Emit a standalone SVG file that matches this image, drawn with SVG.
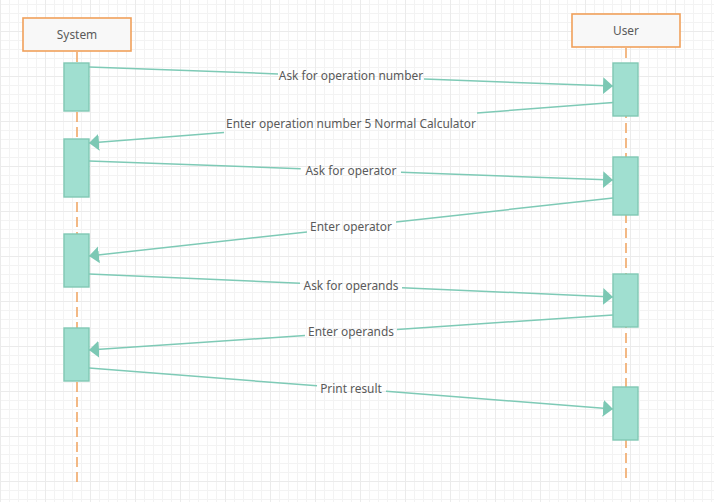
<svg xmlns="http://www.w3.org/2000/svg" width="714" height="502" viewBox="0 0 714 502">
<defs>
<pattern id="gmin" width="9" height="9" patternUnits="userSpaceOnUse" x="0" y="4">
<path d="M0.5,0 V9 M0,0.5 H9" fill="none" stroke="#f3f3f3" stroke-width="1"/>
</pattern>
<pattern id="gmaj" width="45" height="45" patternUnits="userSpaceOnUse" x="0" y="31">
<path d="M0.5,0 V45 M0,0.5 H45" fill="none" stroke="#ebebeb" stroke-width="1"/>
</pattern>
<marker id="arr" markerUnits="userSpaceOnUse" markerWidth="11" markerHeight="18" refX="10" refY="8.5" orient="auto" viewBox="0 0 11 18">
<path d="M0,0 L10,8.5 L0,17 z" fill="#7cc8b4"/>
</marker>
<style>
.actor rect{fill:#f8f8f8;stroke:#f0a05a;stroke-width:1.6}
.life{stroke:#f0a868;stroke-width:1.6;stroke-dasharray:10 5;fill:none}
.act{fill:#a0dfd0;stroke:#80c8b4;stroke-width:1.4}
text{font-family:"Noto Sans","Liberation Sans",Arial,sans-serif;font-size:11.9px;fill:#5a5a5a;text-anchor:middle}
.msg{stroke:#7ecab6;stroke-width:1.5;fill:none}
</style>
</defs>
<rect width="714" height="502" fill="#ffffff"/>
<rect width="714" height="502" fill="url(#gmin)"/>
<rect width="714" height="502" fill="url(#gmaj)"/>

<g id="lifelines">
<line class="life" x1="77" y1="52" x2="77" y2="487"/>
<line class="life" x1="626" y1="48" x2="626" y2="483"/>
</g>

<g id="system">
<g class="actor"><rect x="23" y="18" width="108" height="33"/></g>
<text x="77" y="39">System</text>
</g>
<g id="user">
<g class="actor"><rect x="572" y="14" width="108" height="33"/></g>
<text x="626" y="35">User</text>
</g>

<g id="system-activations">
<rect class="act" x="64" y="63" width="25" height="48"/>
<rect class="act" x="64" y="139" width="25" height="58"/>
<rect class="act" x="64" y="234" width="25" height="53"/>
<rect class="act" x="64" y="328" width="25" height="53"/>
</g>
<g id="user-activations">
<rect class="act" x="613" y="63" width="25" height="53"/>
<rect class="act" x="613" y="157" width="25" height="58"/>
<rect class="act" x="613" y="274" width="25" height="53"/>
<rect class="act" x="613" y="387" width="25" height="53"/>
</g>

<g id="connectors">
<path class="msg" d="M89,67 L278,73.9"/>
<path class="msg" d="M424,79.1 L613,86" marker-end="url(#arr)"/>
<path class="msg" d="M613,102.5 L477,113"/>
<path class="msg" d="M224,132.6 L89,143" marker-end="url(#arr)"/>
<path class="msg" d="M89,161 L300.7,168.7"/>
<path class="msg" d="M401,172.3 L613,180" marker-end="url(#arr)"/>
<path class="msg" d="M613,198 L396,222"/>
<path class="msg" d="M307,231.9 L89,256" marker-end="url(#arr)"/>
<path class="msg" d="M89,274 L300,283.3"/>
<path class="msg" d="M402,287.7 L613,297" marker-end="url(#arr)"/>
<path class="msg" d="M613,315 L397,329.4"/>
<path class="msg" d="M305,335.6 L89,350" marker-end="url(#arr)"/>
<path class="msg" d="M89,368 L317,385.8"/>
<path class="msg" d="M386,391.2 L613,409" marker-end="url(#arr)"/>
</g>

<g id="labels">
<text x="351" y="80">Ask for operation number</text>
<text x="351" y="128">Enter operation number 5 Normal Calculator</text>
<text x="351" y="175">Ask for operator</text>
<text x="351" y="231">Enter operator</text>
<text x="351" y="290">Ask for operands</text>
<text x="351" y="336">Enter operands</text>
<text x="351" y="393">Print result</text>
</g>
</svg>
